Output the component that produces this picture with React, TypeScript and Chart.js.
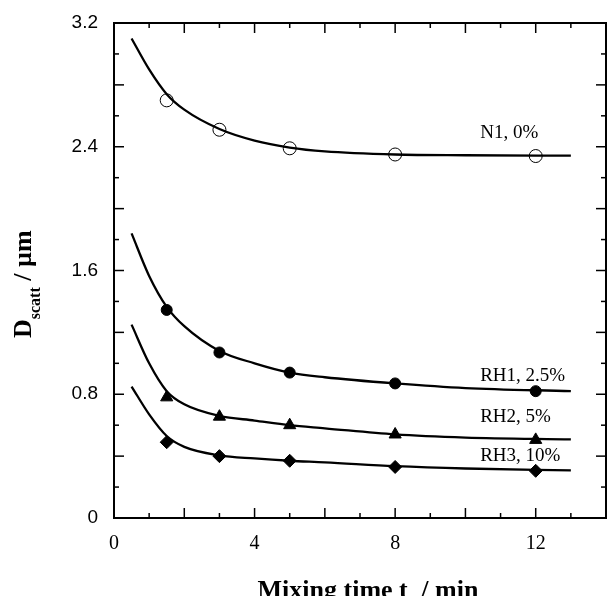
import { useEffect, useRef } from "react";
import { Chart, registerables } from "chart.js";

Chart.register(...registerables);

// Measured sample times (min) and D_scatt values (µm)
const markerTimes = [1.5, 3, 5, 8, 12];
const n1Values = [2.70, 2.51, 2.39, 2.35, 2.34];
const rh1Values = [1.345, 1.07, 0.94, 0.87, 0.82];
const rh2Values = [0.78, 0.655, 0.60, 0.54, 0.505];
const rh3Values = [0.49, 0.40, 0.37, 0.33, 0.305];

// Fitted curves
const curveTimes = [0.5, 1, 1.5, 2, 3, 4, 5, 6, 8, 10, 13];
const n1Curve = [3.10, 2.90, 2.74, 2.64, 2.515, 2.44, 2.395, 2.37, 2.35, 2.345, 2.342];
const rh1Curve = [1.84, 1.565, 1.365, 1.24, 1.08, 1.0, 0.94, 0.91, 0.87, 0.84, 0.82];
const rh2Curve = [1.25, 1.0, 0.82, 0.735, 0.66, 0.63, 0.60, 0.58, 0.54, 0.52, 0.508];
const rh3Curve = [0.85, 0.67, 0.53, 0.46, 0.405, 0.385, 0.37, 0.36, 0.335, 0.32, 0.308];

// Curve labels
const seriesLabels = ["N1, 0%", "RH1, 2.5%", "RH2, 5%", "RH3, 10%"];
const labelValues = [2.49, 0.918, 0.653, 0.401];
const labelTime = 10.42;

const xTitleMain = "Mixing time t";
const xTitleSub = "r";
const xTitleTail = " / min";
const yTitleMain = "D";
const yTitleSub = "scatt";
const yTitleTail = " / µm";

const pts = (xs: number[], ys: number[]) => xs.map((x, i) => ({ x, y: ys[i] }));

export default function App() {
  const ref = useRef<HTMLCanvasElement>(null);

  useEffect(() => {
    const canvas = ref.current!;
    const curve = (ys: number[]) => ({
      data: pts(curveTimes, ys),
      showLine: true,
      borderColor: "#000",
      borderWidth: 2.3,
      pointRadius: 0,
      cubicInterpolationMode: "monotone" as const,
      fill: false,
      order: 2,
    });
    const marker = (ys: number[], style: any, radius: number, bg: string) => ({
      data: pts(markerTimes, ys),
      showLine: false,
      pointStyle: style,
      pointRadius: radius,
      backgroundColor: bg,
      borderColor: "#000",
      borderWidth: 1,
      order: 1,
    });

    const decor = {
      id: "decor",
      afterDraw(chart: any) {
        const { ctx, chartArea: a, scales } = chart;
        const x = scales.x;
        const y = scales.y;
        ctx.save();
        ctx.strokeStyle = "#000";
        ctx.fillStyle = "#000";
        ctx.lineWidth = 2;
        ctx.strokeRect(a.left, a.top, a.right - a.left, a.bottom - a.top);
        ctx.lineWidth = 1.5;
        const line = (x1: number, y1: number, x2: number, y2: number) => {
          ctx.beginPath();
          ctx.moveTo(x1, y1);
          ctx.lineTo(x2, y2);
          ctx.stroke();
        };
        x.ticks.forEach((t: any) => {
          const v = Math.round(t.value);
          if (v <= x.min || v >= x.max) return;
          const px = x.getPixelForValue(t.value);
          const len = v % 2 === 0 ? 10 : 5;
          line(px, a.bottom, px, a.bottom - len);
          line(px, a.top, px, a.top + len);
        });
        y.ticks.forEach((t: any) => {
          const k = Math.round(t.value * 10);
          if (k <= 0 || k >= 32) return;
          const py = y.getPixelForValue(t.value);
          const len = k % 4 === 0 ? 10 : 5;
          line(a.left, py, a.left + len, py);
          line(a.right, py, a.right - len, py);
        });

        // curve labels
        ctx.font = "19px 'Liberation Serif'";
        ctx.textAlign = "left";
        ctx.textBaseline = "middle";
        seriesLabels.forEach((s, i) => {
          ctx.fillText(s, x.getPixelForValue(labelTime), y.getPixelForValue(labelValues[i]));
        });

        // x title
        const big = "bold 26px 'Liberation Serif'";
        const small = "bold 16px 'Liberation Serif'";
        ctx.textBaseline = "alphabetic";
        ctx.font = big;
        const w1 = ctx.measureText(xTitleMain).width;
        const w3 = ctx.measureText(xTitleTail).width;
        ctx.font = small;
        const w2 = ctx.measureText(xTitleSub).width;
        const total = w1 + w2 + w3;
        const cx = (a.left + a.right) / 2 + 8;
        const sx = cx - total / 2;
        const base = 598;
        ctx.font = big;
        ctx.fillText(xTitleMain, sx, base);
        ctx.font = small;
        ctx.fillText(xTitleSub, sx + w1, base + 7);
        ctx.font = big;
        ctx.fillText(xTitleTail, sx + w1 + w2, base);

        // y title (rotated)
        ctx.save();
        ctx.translate(31, 338);
        ctx.rotate(-Math.PI / 2);
        ctx.font = big;
        const d1 = ctx.measureText(yTitleMain).width;
        ctx.fillText(yTitleMain, 0, 0);
        ctx.font = small;
        const d2 = ctx.measureText(yTitleSub).width;
        ctx.fillText(yTitleSub, d1, 9);
        ctx.font = big;
        ctx.fillText(yTitleTail, d1 + d2, 0);
        ctx.restore();

        ctx.restore();
      },
    };

    const chart = new Chart(canvas, {
      type: "scatter",
      data: {
        datasets: [
          marker(n1Values, "circle", 6.5, "rgba(0,0,0,0)"),
          marker(rh1Values, "circle", 5.5, "#000"),
          marker(rh2Values, "triangle", 7, "#000"),
          marker(rh3Values, "rectRot", 6.5, "#000"),
          curve(n1Curve),
          curve(rh1Curve),
          curve(rh2Curve),
          curve(rh3Curve),
        ] as any,
      },
      options: {
        animation: false,
        responsive: false,
        devicePixelRatio: 1,
        layout: { autoPadding: false, padding: { top: 23, right: 2, left: 0, bottom: 0 } },
        plugins: { legend: { display: false }, tooltip: { enabled: false } },
        scales: {
          x: {
            type: "linear",
            min: 0,
            max: 14,
            grid: { display: false, drawTicks: false },
            border: { display: false },
            ticks: {
              stepSize: 1,
              autoSkip: false,
              maxRotation: 0,
              padding: 14,
              color: "#000",
              font: { family: "'Liberation Serif'", size: 20 },
              callback: (v: any) => {
                const n = Math.round(Number(v));
                return n % 4 === 0 ? String(n) : "";
              },
            },
            afterFit: (s: any) => {
              s.height = 78;
              s.paddingLeft = 0;
              s.paddingRight = 0;
              s.paddingTop = 0;
              s.paddingBottom = 0;
            },
          },
          y: {
            type: "linear",
            min: 0,
            max: 3.2,
            grid: { display: false, drawTicks: false },
            border: { display: false },
            ticks: {
              stepSize: 0.2,
              autoSkip: false,
              padding: 16,
              color: "#000",
              font: { family: "'Liberation Sans'", size: 19 },
              callback: (v: any) => {
                const k = Math.round(Number(v) * 10);
                if (k % 8 !== 0) return "";
                return k === 0 ? "0" : (k / 10).toFixed(1);
              },
            },
            afterFit: (s: any) => {
              s.width = 114;
              s.paddingLeft = 0;
              s.paddingRight = 0;
              s.paddingTop = 0;
              s.paddingBottom = 0;
            },
          },
        },
      },
      plugins: [decor],
    });
    return () => chart.destroy();
  }, []);

  return (
    <div style={{ position: "fixed", left: 0, top: 0, width: 608, height: 596, background: "#fff" }}>
      <canvas ref={ref} width={608} height={596} style={{ display: "block", width: 608, height: 596 }} />
    </div>
  );
}
